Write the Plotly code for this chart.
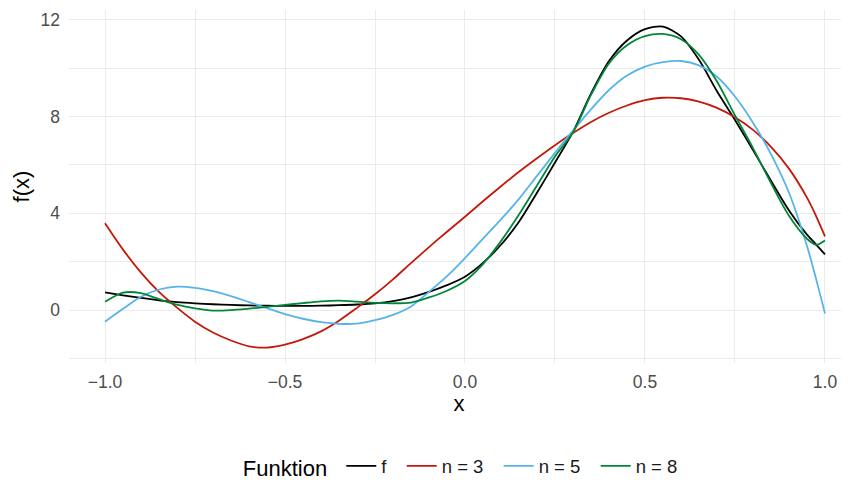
import plotly.graph_objects as go

# x positions the curves were read at
x = [-1.0, -0.95, -0.9, -0.85, -0.8, -0.75, -0.7, -0.65, -0.6, -0.55,
     -0.5, -0.45, -0.4, -0.35, -0.3, -0.25, -0.2, -0.15, -0.1, -0.05,
     0.0, 0.05, 0.1, 0.15, 0.2, 0.25, 0.3, 0.35, 0.4, 0.45,
     0.5, 0.55, 0.6, 0.65, 0.7, 0.75, 0.8, 0.85, 0.9, 0.95,
     0.975, 1.0]

f_vals = [0.73, 0.61, 0.50, 0.40, 0.33, 0.28, 0.24, 0.21, 0.19, 0.18,
          0.17, 0.17, 0.18, 0.20, 0.23, 0.28, 0.37, 0.52, 0.75, 1.03,
          1.38, 1.95, 2.70, 3.65, 4.85, 6.10, 7.37, 8.95, 10.30, 11.15,
          11.62, 11.72, 11.32, 10.35, 9.05, 7.86, 6.62, 5.35, 4.12, 3.12,
          2.72, 2.30]
n3_vals = [3.59, 2.50, 1.55, 0.75, 0.10, -0.48, -0.93, -1.26, -1.50, -1.55,
           -1.43, -1.20, -0.88, -0.44, 0.09, 0.65, 1.27, 1.94, 2.60, 3.24,
           3.86, 4.50, 5.12, 5.72, 6.28, 6.82, 7.32, 7.78, 8.16, 8.46,
           8.68, 8.78, 8.76, 8.62, 8.36, 7.97, 7.45, 6.75, 5.85, 4.65,
           3.90, 3.05]
n5_vals = [-0.48, 0.05, 0.55, 0.85, 0.97, 0.92, 0.78, 0.58, 0.33, 0.08,
           -0.17, -0.36, -0.50, -0.57, -0.56, -0.42, -0.20, 0.15, 0.75, 1.40,
           2.15, 2.95, 3.75, 4.60, 5.55, 6.50, 7.42, 8.30, 9.10, 9.70,
           10.07, 10.25, 10.30, 10.12, 9.65, 8.83, 7.75, 6.45, 4.85, 2.65,
           1.30, -0.14]
n8_vals = [0.34, 0.72, 0.70, 0.45, 0.22, 0.07, -0.02, 0.00, 0.06, 0.13,
           0.21, 0.29, 0.36, 0.39, 0.35, 0.30, 0.28, 0.31, 0.52, 0.80,
           1.20, 1.90, 2.85, 3.95, 5.15, 6.35, 7.35, 8.90, 10.20, 10.95,
           11.33, 11.42, 11.20, 10.55, 9.45, 8.05, 6.70, 5.25, 3.90, 2.95,
           2.70, 2.88]

names = ["f", "n = 3", "n = 5", "n = 8"]
colors = ["#000000", "#C4180C", "#56B4E9", "#00873A"]
series = [f_vals, n3_vals, n5_vals, n8_vals]

pad = "\u00a0\u00a0"  # a little extra room after each legend entry, like ggplot

fig = go.Figure()
for name, col, ys in zip(names, colors, series):
    fig.add_trace(go.Scatter(x=x, y=ys, mode="lines", name=name + pad,
                             line=dict(color=col, width=1.8, shape="spline", smoothing=0.8)))

grid = "#EBEBEB"
# the page body adds an 8px margin, so the figure is 8px smaller than the window
fig.update_layout(
    width=841, height=472,
    paper_bgcolor="white", plot_bgcolor="white",
    margin=dict(l=61, r=0, t=2, b=117),
    font=dict(family="Liberation Sans, Arial, sans-serif", color="#4D4D4D", size=17.5),
    legend=dict(orientation="h", x=0.51, xanchor="center",
                yref="container", y=0.028, yanchor="middle",
                title=dict(text="Funktion\u00a0", side="left", font=dict(size=22, color="black")),
                font=dict(size=18.5, color="#1A1A1A"), itemwidth=30),
)
fig.update_xaxes(
    range=[-1.1, 1.0667], tickvals=[-1.0, -0.5, 0.0, 0.5, 1.0],
    ticktext=["\u22121.0", "\u22120.5", "0.0", "0.5", "1.0"],
    showgrid=True, gridcolor=grid, gridwidth=1.4, zeroline=False,
    minor=dict(tickvals=[-0.75, -0.25, 0.25, 0.75], showgrid=True, gridcolor=grid, gridwidth=0.8),
    ticks="", showline=False, automargin=False, ticklabelstandoff=6,
    title=dict(text="x", font=dict(size=22, color="black"), standoff=5),
)
fig.update_yaxes(
    range=[-2.19, 12.41], tickvals=[0, 4, 8, 12],
    showgrid=True, gridcolor=grid, gridwidth=1.4, zeroline=False,
    minor=dict(tickvals=[-2, 2, 6, 10], showgrid=True, gridcolor=grid, gridwidth=0.8),
    ticks="", showline=False, automargin=False, ticklabelstandoff=8,
    title=dict(text="f(x)", font=dict(size=22, color="black"), standoff=4),
)

fig.write_html("out.html")
